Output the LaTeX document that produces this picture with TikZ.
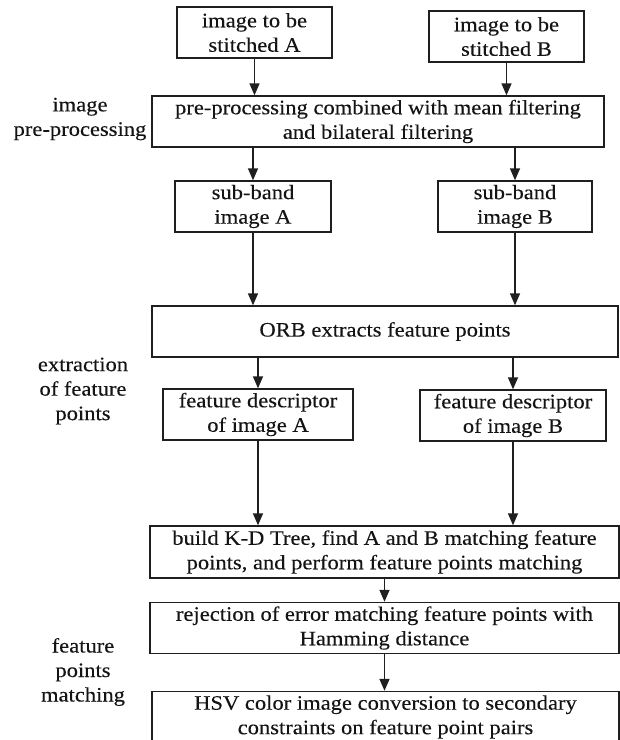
\documentclass[tikz,border=0pt]{standalone}
\usepackage{fontspec}
\setmainfont[FakeStretch=1.1,FakeBold=0.2]{Liberation Serif}
\usetikzlibrary{arrows.meta}
\begin{document}
\begin{tikzpicture}[x=1pt,y=-1pt,
  txt/.style={font=\fontsize{20.5}{24.5}\selectfont, text=black!92},
  box/.style={txt, draw=black!88, line width=1.4pt, align=center, inner sep=0pt},
  lbl/.style={txt, align=center, inner sep=0pt},
  arr/.style={draw=black!88, line width=1.5pt, -{Triangle[length=12pt,width=10pt]}}]
\useasboundingbox (0,0) rectangle (620,740);
\clip (0,0) rectangle (620,740);
% boxes
\node[box, minimum width=155pt, minimum height=51pt] (A) at (254.5,32.5) {image to be\\stitched A};
\node[box, minimum width=155pt, minimum height=51pt] (B) at (506.5,36.5) {image to be\\stitched B};
\node[box, minimum width=452pt, minimum height=51pt] (pre) at (378,121.5) {pre-processing combined with mean filtering\\and bilateral filtering};
\node[box, minimum width=156pt, minimum height=51pt] (subA) at (253,206.5) {sub-band\\image A};
\node[box, minimum width=154pt, minimum height=51pt] (subB) at (515,206.5) {sub-band\\image B};
\node[box, minimum width=466pt, minimum height=51pt] (orb) at (385,331.5) {ORB extracts feature points};
\node[box, minimum width=190pt, minimum height=51pt] (fdA) at (258,414.5) {feature descriptor\\of image A};
\node[box, minimum width=186pt, minimum height=51pt] (fdB) at (513,415.5) {feature descriptor\\of image B};
\node[box, minimum width=469pt, minimum height=52pt] (build) at (384.5,552) {build K-D Tree, find A and B matching feature\\points, and perform feature points matching};
\node[box, minimum width=469pt, minimum height=51pt] (rej) at (384.5,628) {rejection of error matching feature points with\\Hamming distance};
\node[box, minimum width=467pt, minimum height=51pt] (hsv) at (385.5,717) {HSV color image conversion to secondary\\constraints on feature point pairs};
% side labels
\node[lbl] (L1) at (80,119) {image\\pre-processing};
\node[lbl] (L2) at (83,391) {extraction\\of feature\\points};
\node[lbl] (L3) at (83,672) {feature\\points\\matching};
% arrows
\draw[arr] (A.south) -- (A.south |- pre.north);
\draw[arr] (B.south) -- (B.south |- pre.north);
\draw[arr] (subA.north |- pre.south) -- (subA.north);
\draw[arr] (subB.north |- pre.south) -- (subB.north);
\draw[arr] (subA.south) -- (subA.south |- orb.north);
\draw[arr] (subB.south) -- (subB.south |- orb.north);
\draw[arr] (fdA.north |- orb.south) -- (fdA.north);
\draw[arr] (fdB.north |- orb.south) -- (fdB.north);
\draw[arr] (fdA.south) -- (fdA.south |- build.north);
\draw[arr] (fdB.south) -- (fdB.south |- build.north);
\draw[arr] (build.south) -- (rej.north);
\draw[arr] (rej.south) -- (rej.south |- hsv.north);
\end{tikzpicture}
\end{document}
